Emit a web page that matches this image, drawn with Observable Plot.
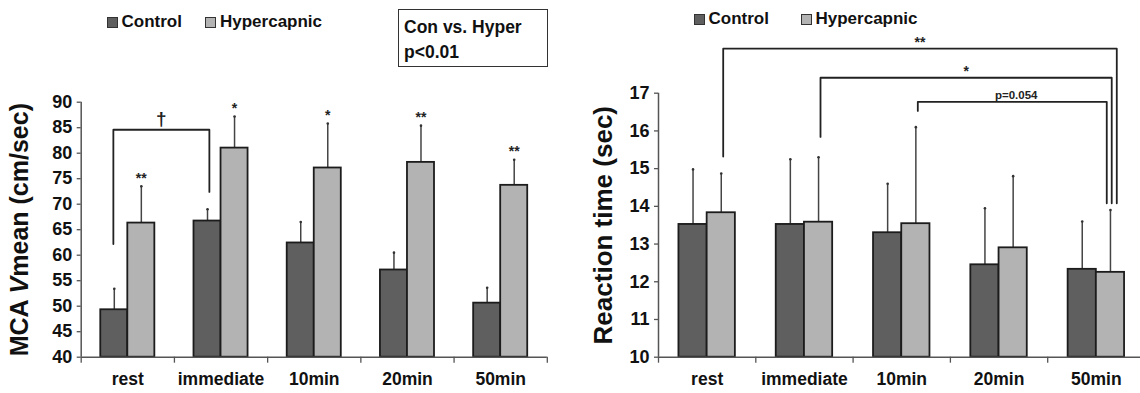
<!DOCTYPE html>
<html>
<head>
<meta charset="utf-8">
<script src="https://cdn.jsdelivr.net/npm/d3@7"></script>
<script src="https://cdn.jsdelivr.net/npm/@observablehq/plot@0.6"></script>
<style>
  html, body { margin: 0; padding: 0; background: #fff; }
  body { font-family: "Liberation Sans", Arial, sans-serif; }
  #wrap { position: relative; width: 1140px; height: 393px; overflow: hidden; background: #fff; }
  .panel { position: absolute; top: 0; }
  .legend { position: absolute; display: flex; align-items: center; font-weight: bold; font-size: 17px; color: #111; line-height: 20px; white-space: nowrap; }
  .legend .sw { width: 11px; height: 11px; box-sizing: border-box; border: 1.5px solid #333; margin-right: 4px; }
  .box { position: absolute; left: 398px; top: 9px; width: 150px; height: 58px; box-sizing: border-box; border: 1.5px solid #333; padding: 5px 0 0 5px; font-weight: bold; font-size: 17.5px; line-height: 25px; color: #111; }
</style>
</head>
<body>
<div id="wrap"></div>
<script>
// ---------- data ----------
const categories = ["rest", "immediate", "10min", "20min", "50min"];
const seriesNames = ["Control", "Hypercapnic"];
const seriesColors = ["#5f5f5f", "#b3b3b3"];

// Left panel: MCA Vmean (cm/sec)
const mcaControl    = [49.3, 66.7, 62.4, 57.1, 50.6];
const mcaControlErr = [53.4, 69.0, 66.5, 60.5, 53.6];
const mcaHyper      = [66.3, 81.0, 77.1, 78.2, 73.7];
const mcaHyperErr   = [73.5, 87.2, 85.8, 85.4, 78.7];
const mcaStars      = ["**", "*", "*", "**", "**"];
const mcaTicks      = [40, 45, 50, 55, 60, 65, 70, 75, 80, 85, 90];
const mcaBracketFrom = "rest";
const mcaBracketTo = "immediate";
const mcaBracketTop = 84.6;
const mcaBracketFromBottom = 62.2;
const mcaBracketToBottom = 72.4;
const mcaBracketLabel = "†";

// Right panel: Reaction time (sec)
const rtControl    = [13.52, 13.52, 13.30, 12.45, 12.33];
const rtControlErr = [14.98, 15.25, 14.60, 13.95, 13.60];
const rtHyper      = [13.83, 13.58, 13.54, 12.90, 12.25];
const rtHyperErr   = [14.87, 15.30, 16.10, 14.80, 13.90];
const rtTicks      = [10, 11, 12, 13, 14, 15, 16, 17];
const rtBracketFrom = ["rest", "immediate", "10min"];
const rtBracketTo = "50min";
const rtBracketTop = [18.18, 17.41, 16.77];
const rtBracketFromBottom = [15.32, 15.84, 16.53];
const rtBracketToBottom = [14.08, 14.08, 14.08];
const rtBracketLabel = ["**", "*", "p=0.054"];

// ---------- helpers ----------
const W = 0.29; // bar width in category units
const idx = c => categories.indexOf(c);
const center = d => d.i + (d.series === "Control" ? -W / 2 : W / 2);

function rows(ctrl, ctrlErr, hyp, hypErr) {
  return categories.flatMap((c, i) => [
    {cat: c, i, series: "Control", value: ctrl[i], err: ctrlErr[i]},
    {cat: c, i, series: "Hypercapnic", value: hyp[i], err: hypErr[i]}
  ]);
}

function bracketPoints(list) {
  return list.flatMap((b, k) => [
    {id: k, x: b.x1, y: b.y1b},
    {id: k, x: b.x1, y: b.top},
    {id: k, x: b.x2, y: b.top},
    {id: k, x: b.x2, y: b.y2b}
  ]);
}

const FONT = "'Liberation Sans', Arial, Helvetica, sans-serif";

function panel(o) {
  const base = o.yDomain[0];
  return Plot.plot({
    width: o.width, height: 393,
    marginLeft: o.marginLeft, marginRight: o.marginRight,
    marginTop: o.marginTop, marginBottom: o.marginBottom,
    x: {domain: [-0.5, 4.5], axis: null},
    y: {domain: o.yDomain, axis: null},
    color: {domain: seriesNames, range: seriesColors},
    style: {fontFamily: FONT, fontWeight: "bold", color: "#111", background: "transparent", overflow: "visible"},
    marks: [
      Plot.ruleX(o.data, {x: center, y1: "value", y2: "err", stroke: "#444", strokeWidth: 1.5}),
      Plot.dot(o.data, {x: center, y: "err", r: 1.3, fill: "#333", stroke: null}),
      Plot.rect(o.data, {
        x1: d => d.i + (d.series === "Control" ? -W : 0),
        x2: d => d.i + (d.series === "Control" ? 0 : W),
        y1: () => base, y2: "value",
        fill: "series", stroke: "#1c1c1c", strokeWidth: 1.8
      }),
      Plot.ruleY([base], {stroke: "#555", strokeWidth: 1.5}),
      Plot.ruleX([-0.5], {stroke: "#555", strokeWidth: 1.5}),
      Plot.axisY({ticks: o.ticks, tickSize: 4, tickPadding: 5, tickFormat: d => String(d), fontSize: 18, stroke: "#555", strokeWidth: 1.3, label: null}),
      Plot.axisX({ticks: [-0.5, 0.5, 1.5, 2.5, 3.5, 4.5], tickSize: 6, tickFormat: () => "", stroke: "#555", strokeWidth: 1.3, label: null}),
      Plot.axisX({ticks: [0, 1, 2, 3, 4], tickSize: 0, tickPadding: 15, tickFormat: i => categories[i], fontSize: 17.5, label: null}),
      Plot.text([o.label], {frameAnchor: "left", dx: o.labelDx, rotate: -90, fontSize: o.labelSize, textAnchor: "middle", fill: "#111"}),
      ...o.extra
    ]
  });
}

// ---------- left panel ----------
const mcaData = rows(mcaControl, mcaControlErr, mcaHyper, mcaHyperErr);
const mcaHyperRows = mcaData.filter(d => d.series === "Hypercapnic").map((d, k) => ({...d, star: mcaStars[k]}));
const mcaBr = [{
  x1: idx(mcaBracketFrom) - 0.155, x2: idx(mcaBracketTo) - 0.125,
  top: mcaBracketTop, y1b: mcaBracketFromBottom, y2b: mcaBracketToBottom, label: mcaBracketLabel
}];

const left = panel({
  data: mcaData, yDomain: [40, 90], ticks: mcaTicks,
  label: "MCA Vmean (cm/sec)", labelDx: -60.7, labelSize: 25,
  width: 570, marginLeft: 80.7, marginRight: 23.2, marginTop: 101.7, marginBottom: 36.3,
  extra: [
    Plot.text(mcaHyperRows, {x: center, y: "err", text: "star", dy: -8, fontSize: 14, fill: "#222"}),
    Plot.line(bracketPoints(mcaBr), {x: "x", y: "y", z: "id", stroke: "#222", strokeWidth: 1.8}),
    Plot.text(mcaBr, {x: d => (d.x1 + d.x2) / 2, y: "top", text: "label", dy: -11, fontSize: 19, fill: "#222"})
  ]
});

// ---------- right panel ----------
const rtData = rows(rtControl, rtControlErr, rtHyper, rtHyperErr);
const rtToOffsets = [0.21, 0.158, 0.107];
const rtBr = rtBracketFrom.map((f, k) => ({
  x1: idx(f) + 0.165, x2: idx(rtBracketTo) + rtToOffsets[k],
  top: rtBracketTop[k], y1b: rtBracketFromBottom[k], y2b: rtBracketToBottom[k], label: rtBracketLabel[k]
}));

const right = panel({
  data: rtData, yDomain: [10, 17], ticks: rtTicks,
  label: "Reaction time (sec)", labelDx: -55, labelSize: 26,
  width: 580, marginLeft: 88, marginRight: 5.5, marginTop: 92.7, marginBottom: 36.3,
  extra: [
    Plot.line(bracketPoints(rtBr), {x: "x", y: "y", z: "id", stroke: "#222", strokeWidth: 1.8}),
    Plot.text(rtBr.filter(d => d.label !== "p=0.054"), {x: d => (d.x1 + d.x2) / 2, y: "top", text: "label", dy: -6, fontSize: 14, fill: "#222"}),
    Plot.text(rtBr.filter(d => d.label === "p=0.054"), {x: d => (d.x1 + d.x2) / 2 + 0.04, y: "top", text: "label", dy: -7, fontSize: 11.5, fill: "#222"})
  ]
});

// ---------- assemble ----------
const wrap = document.getElementById("wrap");
left.classList.add("panel"); left.style.left = "0px";
right.classList.add("panel"); right.style.left = "570px";
wrap.appendChild(left);
wrap.appendChild(right);

// italic "V" in the left axis title
for (const t of left.querySelectorAll("text")) {
  if (t.textContent === "MCA Vmean (cm/sec)") {
    t.textContent = "";
    const ns = "http://www.w3.org/2000/svg";
    const parts = [["MCA ", null], ["V", "italic"], ["mean (cm/sec)", null]];
    for (const [s, st] of parts) {
      const sp = document.createElementNS(ns, "tspan");
      sp.textContent = s;
      if (st) sp.setAttribute("font-style", st);
      t.appendChild(sp);
    }
  }
}

// legends (HTML, above the plots)
function addLegend(xs, y) {
  seriesNames.forEach((name, k) => {
    const L = document.createElement("div");
    L.className = "legend";
    L.style.left = xs[k] + "px";
    L.style.top = y + "px";
    const sw = document.createElement("span");
    sw.className = "sw";
    sw.style.background = seriesColors[k];
    const tx = document.createElement("span");
    tx.textContent = name;
    L.appendChild(sw); L.appendChild(tx);
    wrap.appendChild(L);
  });
}
addLegend([106.5, 205], 12);
addLegend([693.5, 800.5], 9);

const box = document.createElement("div");
box.className = "box";
box.innerHTML = "Con vs. Hyper<br>p&lt;0.01";
wrap.appendChild(box);
</script>
</body>
</html>
